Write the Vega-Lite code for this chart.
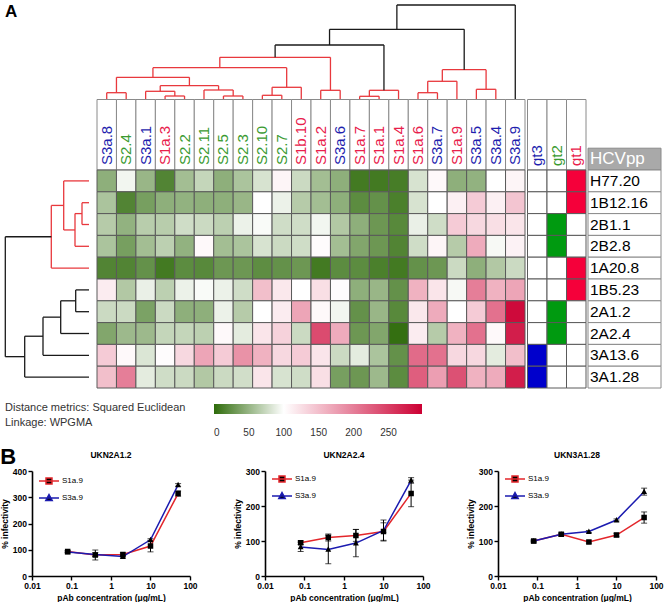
{
 "$schema": "https://vega.github.io/schema/vega-lite/v6.json",
 "padding": 0,
 "background": "white",
 "spacing": 1,
 "config": {
  "font": "Liberation Sans",
  "view": {"stroke": null},
  "legend": {"padding": 0},
  "axis": {"domainColor": "black", "domainWidth": 1.6, "tickColor": "black", "tickWidth": 1.4, "tickSize": 4, "labelFontSize": 8.5, "labelFontWeight": "bold", "labelColor": "black", "labelPadding": 1.5, "titleFontSize": 8.5, "titleFontWeight": "bold", "titleColor": "black", "titlePadding": 3, "grid": false, "labelFlush": false, "labelOverlap": false}
 },
 "datasets": {
  "cols": [
   {"c":"S3a.8","g":"gt3"},{"c":"S2.4","g":"gt2"},{"c":"S3a.1","g":"gt3"},{"c":"S1a.3","g":"gt1"},{"c":"S2.2","g":"gt2"},{"c":"S2.11","g":"gt2"},{"c":"S2.5","g":"gt2"},{"c":"S2.3","g":"gt2"},{"c":"S2.10","g":"gt2"},{"c":"S2.7","g":"gt2"},{"c":"S1b.10","g":"gt1"},{"c":"S1a.2","g":"gt1"},{"c":"S3a.6","g":"gt3"},{"c":"S1a.7","g":"gt1"},{"c":"S1a.1","g":"gt1"},{"c":"S1a.4","g":"gt1"},{"c":"S1a.6","g":"gt1"},{"c":"S3a.7","g":"gt3"},{"c":"S1a.9","g":"gt1"},{"c":"S3a.5","g":"gt3"},{"c":"S3a.4","g":"gt3"},{"c":"S3a.9","g":"gt3"}
  ],
  "gts": [{"g":"gt3"},{"g":"gt2"},{"g":"gt1"}],
  "labels": [
   {"name":"HCVpp","kind":"header"},{"name":"H77.20","kind":"strain"},{"name":"1B12.16","kind":"strain"},{"name":"2B1.1","kind":"strain"},{"name":"2B2.8","kind":"strain"},{"name":"1A20.8","kind":"strain"},{"name":"1B5.23","kind":"strain"},{"name":"2A1.2","kind":"strain"},{"name":"2A2.4","kind":"strain"},{"name":"3A13.6","kind":"strain"},{"name":"3A1.28","kind":"strain"}
  ],
  "gtcells": [
   {"r":"H77.20","g":"gt3","m":0},{"r":"H77.20","g":"gt2","m":0},{"r":"H77.20","g":"gt1","m":1},
   {"r":"1B12.16","g":"gt3","m":0},{"r":"1B12.16","g":"gt2","m":0},{"r":"1B12.16","g":"gt1","m":1},
   {"r":"2B1.1","g":"gt3","m":0},{"r":"2B1.1","g":"gt2","m":1},{"r":"2B1.1","g":"gt1","m":0},
   {"r":"2B2.8","g":"gt3","m":0},{"r":"2B2.8","g":"gt2","m":1},{"r":"2B2.8","g":"gt1","m":0},
   {"r":"1A20.8","g":"gt3","m":0},{"r":"1A20.8","g":"gt2","m":0},{"r":"1A20.8","g":"gt1","m":1},
   {"r":"1B5.23","g":"gt3","m":0},{"r":"1B5.23","g":"gt2","m":0},{"r":"1B5.23","g":"gt1","m":1},
   {"r":"2A1.2","g":"gt3","m":0},{"r":"2A1.2","g":"gt2","m":1},{"r":"2A1.2","g":"gt1","m":0},
   {"r":"2A2.4","g":"gt3","m":0},{"r":"2A2.4","g":"gt2","m":1},{"r":"2A2.4","g":"gt1","m":0},
   {"r":"3A13.6","g":"gt3","m":1},{"r":"3A13.6","g":"gt2","m":0},{"r":"3A13.6","g":"gt1","m":0},
   {"r":"3A1.28","g":"gt3","m":1},{"r":"3A1.28","g":"gt2","m":0},{"r":"3A1.28","g":"gt1","m":0}
  ],
  "topdend": [
   {"x":0.5,"x2":1.5,"y":6.3,"y2":6.3,"k":"in"},{"x":0.5,"x2":0.5,"y":0,"y2":6.3,"k":"in"},{"x":1.5,"x2":1.5,"y":0,"y2":6.3,"k":"in"},
   {"x":3.5,"x2":4.5,"y":3,"y2":3,"k":"in"},{"x":3.5,"x2":3.5,"y":0,"y2":3,"k":"in"},{"x":4.5,"x2":4.5,"y":0,"y2":3,"k":"in"},
   {"x":2.5,"x2":4.0,"y":7.7,"y2":7.7,"k":"in"},{"x":2.5,"x2":2.5,"y":0,"y2":7.7,"k":"in"},{"x":4.0,"x2":4.0,"y":3,"y2":7.7,"k":"in"},
   {"x":6.5,"x2":7.5,"y":3,"y2":3,"k":"in"},{"x":6.5,"x2":6.5,"y":0,"y2":3,"k":"in"},{"x":7.5,"x2":7.5,"y":0,"y2":3,"k":"in"},
   {"x":5.5,"x2":7.0,"y":9,"y2":9,"k":"in"},{"x":5.5,"x2":5.5,"y":0,"y2":9,"k":"in"},{"x":7.0,"x2":7.0,"y":3,"y2":9,"k":"in"},
   {"x":3.25,"x2":6.25,"y":13.3,"y2":13.3,"k":"in"},{"x":3.25,"x2":3.25,"y":7.7,"y2":13.3,"k":"in"},{"x":6.25,"x2":6.25,"y":9,"y2":13.3,"k":"in"},
   {"x":1.0,"x2":4.75,"y":21.7,"y2":21.7,"k":"in"},{"x":1.0,"x2":1.0,"y":6.3,"y2":21.7,"k":"in"},{"x":4.75,"x2":4.75,"y":13.3,"y2":21.7,"k":"in"},
   {"x":8.5,"x2":9.5,"y":3.7,"y2":3.7,"k":"in"},{"x":8.5,"x2":8.5,"y":0,"y2":3.7,"k":"in"},{"x":9.5,"x2":9.5,"y":0,"y2":3.7,"k":"in"},
   {"x":9.0,"x2":10.5,"y":11.7,"y2":11.7,"k":"in"},{"x":9.0,"x2":9.0,"y":3.7,"y2":11.7,"k":"in"},{"x":10.5,"x2":10.5,"y":0,"y2":11.7,"k":"in"},
   {"x":2.875,"x2":9.75,"y":31.3,"y2":31.3,"k":"in"},{"x":2.875,"x2":2.875,"y":21.7,"y2":31.3,"k":"in"},{"x":9.75,"x2":9.75,"y":11.7,"y2":31.3,"k":"in"},
   {"x":11.5,"x2":12.5,"y":8.7,"y2":8.7,"k":"in"},{"x":11.5,"x2":11.5,"y":0,"y2":8.7,"k":"in"},{"x":12.5,"x2":12.5,"y":0,"y2":8.7,"k":"in"},
   {"x":6.3125,"x2":12.0,"y":41.7,"y2":41.7,"k":"in"},{"x":6.3125,"x2":6.3125,"y":31.3,"y2":41.7,"k":"in"},{"x":12.0,"x2":12.0,"y":8.7,"y2":41.7,"k":"in"},
   {"x":13.5,"x2":14.5,"y":2.7,"y2":2.7,"k":"in"},{"x":13.5,"x2":13.5,"y":0,"y2":2.7,"k":"in"},{"x":14.5,"x2":14.5,"y":0,"y2":2.7,"k":"in"},
   {"x":14.0,"x2":15.5,"y":8.7,"y2":8.7,"k":"in"},{"x":14.0,"x2":14.0,"y":2.7,"y2":8.7,"k":"in"},{"x":15.5,"x2":15.5,"y":0,"y2":8.7,"k":"in"},
   {"x":9.156,"x2":14.75,"y":54,"y2":54,"k":"out"},{"x":9.156,"x2":9.156,"y":41.7,"y2":54,"k":"out"},{"x":14.75,"x2":14.75,"y":8.7,"y2":54,"k":"out"},
   {"x":16.5,"x2":17.5,"y":6.3,"y2":6.3,"k":"in"},{"x":16.5,"x2":16.5,"y":0,"y2":6.3,"k":"in"},{"x":17.5,"x2":17.5,"y":0,"y2":6.3,"k":"in"},
   {"x":17.0,"x2":18.5,"y":17.7,"y2":17.7,"k":"in"},{"x":17.0,"x2":17.0,"y":6.3,"y2":17.7,"k":"in"},{"x":18.5,"x2":18.5,"y":0,"y2":17.7,"k":"in"},
   {"x":19.5,"x2":20.5,"y":9.7,"y2":9.7,"k":"in"},{"x":19.5,"x2":19.5,"y":0,"y2":9.7,"k":"in"},{"x":20.5,"x2":20.5,"y":0,"y2":9.7,"k":"in"},
   {"x":17.75,"x2":20.0,"y":29.3,"y2":29.3,"k":"in"},{"x":17.75,"x2":17.75,"y":17.7,"y2":29.3,"k":"in"},{"x":20.0,"x2":20.0,"y":9.7,"y2":29.3,"k":"in"},
   {"x":11.953,"x2":18.875,"y":69.7,"y2":69.7,"k":"out"},{"x":11.953,"x2":11.953,"y":54,"y2":69.7,"k":"out"},{"x":18.875,"x2":18.875,"y":29.3,"y2":69.7,"k":"out"},
   {"x":15.414,"x2":21.5,"y":94,"y2":94,"k":"out"},{"x":15.414,"x2":15.414,"y":69.7,"y2":94,"k":"out"},{"x":21.5,"x2":21.5,"y":0,"y2":94,"k":"out"}
  ],
  "leftdend": [
   {"x":0,"x2":7,"y":1.5,"y2":1.5,"k":"in"},{"x":0,"x2":7,"y":2.5,"y2":2.5,"k":"in"},{"x":7,"x2":7,"y":1.5,"y2":2.5,"k":"in"},
   {"x":7,"x2":14,"y":2.0,"y2":2.0,"k":"in"},{"x":0,"x2":14,"y":3.5,"y2":3.5,"k":"in"},{"x":14,"x2":14,"y":2.0,"y2":3.5,"k":"in"},
   {"x":0,"x2":25.3,"y":0.5,"y2":0.5,"k":"in"},{"x":14,"x2":25.3,"y":2.75,"y2":2.75,"k":"in"},{"x":25.3,"x2":25.3,"y":0.5,"y2":2.75,"k":"in"},
   {"x":25.3,"x2":37.7,"y":1.625,"y2":1.625,"k":"in"},{"x":0,"x2":37.7,"y":4.5,"y2":4.5,"k":"in"},{"x":37.7,"x2":37.7,"y":1.625,"y2":4.5,"k":"in"},
   {"x":0,"x2":13.3,"y":5.5,"y2":5.5,"k":"out"},{"x":0,"x2":13.3,"y":6.5,"y2":6.5,"k":"out"},{"x":13.3,"x2":13.3,"y":5.5,"y2":6.5,"k":"out"},
   {"x":13.3,"x2":28.3,"y":6.0,"y2":6.0,"k":"out"},{"x":0,"x2":28.3,"y":7.5,"y2":7.5,"k":"out"},{"x":28.3,"x2":28.3,"y":6.0,"y2":7.5,"k":"out"},
   {"x":28.3,"x2":46,"y":6.75,"y2":6.75,"k":"out"},{"x":0,"x2":46,"y":8.5,"y2":8.5,"k":"out"},{"x":46,"x2":46,"y":6.75,"y2":8.5,"k":"out"},
   {"x":46,"x2":64.3,"y":7.625,"y2":7.625,"k":"out"},{"x":0,"x2":64.3,"y":9.5,"y2":9.5,"k":"out"},{"x":64.3,"x2":64.3,"y":7.625,"y2":9.5,"k":"out"},
   {"x":37.7,"x2":83.7,"y":3.0625,"y2":3.0625,"k":"out"},{"x":64.3,"x2":83.7,"y":8.5625,"y2":8.5625,"k":"out"},{"x":83.7,"x2":83.7,"y":3.0625,"y2":8.5625,"k":"out"}
  ],
  "heat": [
   {"r":"H77.20","c":"S3a.8","v":46},{"r":"H77.20","c":"S2.4","v":94},{"r":"H77.20","c":"S3a.1","v":51},{"r":"H77.20","c":"S1a.3","v":17},{"r":"H77.20","c":"S2.2","v":56},{"r":"H77.20","c":"S2.11","v":72},{"r":"H77.20","c":"S2.5","v":46},{"r":"H77.20","c":"S2.3","v":60},{"r":"H77.20","c":"S2.10","v":81},{"r":"H77.20","c":"S2.7","v":108},{"r":"H77.20","c":"S1b.10","v":75},{"r":"H77.20","c":"S1a.2","v":56},{"r":"H77.20","c":"S3a.6","v":46},{"r":"H77.20","c":"S1a.7","v":10},{"r":"H77.20","c":"S1a.1","v":10},{"r":"H77.20","c":"S1a.4","v":12},{"r":"H77.20","c":"S1a.6","v":81},{"r":"H77.20","c":"S3a.7","v":105},{"r":"H77.20","c":"S1a.9","v":46},{"r":"H77.20","c":"S3a.5","v":48},{"r":"H77.20","c":"S3a.4","v":100},{"r":"H77.20","c":"S3a.9","v":108},
   {"r":"1B12.16","c":"S3a.8","v":60},{"r":"1B12.16","c":"S2.4","v":17},{"r":"1B12.16","c":"S3a.1","v":35},{"r":"1B12.16","c":"S1a.3","v":46},{"r":"1B12.16","c":"S2.2","v":48},{"r":"1B12.16","c":"S2.11","v":46},{"r":"1B12.16","c":"S2.5","v":46},{"r":"1B12.16","c":"S2.3","v":51},{"r":"1B12.16","c":"S2.10","v":100},{"r":"1B12.16","c":"S2.7","v":91},{"r":"1B12.16","c":"S1b.10","v":65},{"r":"1B12.16","c":"S1a.2","v":56},{"r":"1B12.16","c":"S3a.6","v":46},{"r":"1B12.16","c":"S1a.7","v":22},{"r":"1B12.16","c":"S1a.1","v":26},{"r":"1B12.16","c":"S1a.4","v":14},{"r":"1B12.16","c":"S1a.6","v":81},{"r":"1B12.16","c":"S3a.7","v":100},{"r":"1B12.16","c":"S1a.9","v":112},{"r":"1B12.16","c":"S3a.5","v":140},{"r":"1B12.16","c":"S3a.4","v":112},{"r":"1B12.16","c":"S3a.9","v":145},
   {"r":"2B1.1","c":"S3a.8","v":65},{"r":"2B1.1","c":"S2.4","v":48},{"r":"2B1.1","c":"S3a.1","v":66},{"r":"2B1.1","c":"S1a.3","v":66},{"r":"2B1.1","c":"S2.2","v":77},{"r":"2B1.1","c":"S2.11","v":75},{"r":"2B1.1","c":"S2.5","v":68},{"r":"2B1.1","c":"S2.3","v":91},{"r":"2B1.1","c":"S2.10","v":97},{"r":"2B1.1","c":"S2.7","v":77},{"r":"2B1.1","c":"S1b.10","v":77},{"r":"2B1.1","c":"S1a.2","v":94},{"r":"2B1.1","c":"S3a.6","v":63},{"r":"2B1.1","c":"S1a.7","v":46},{"r":"2B1.1","c":"S1a.1","v":30},{"r":"2B1.1","c":"S1a.4","v":20},{"r":"2B1.1","c":"S1a.6","v":90},{"r":"2B1.1","c":"S3a.7","v":77},{"r":"2B1.1","c":"S1a.9","v":140},{"r":"2B1.1","c":"S3a.5","v":130},{"r":"2B1.1","c":"S3a.4","v":125},{"r":"2B1.1","c":"S3a.9","v":120},
   {"r":"2B2.8","c":"S3a.8","v":60},{"r":"2B2.8","c":"S2.4","v":35},{"r":"2B2.8","c":"S3a.1","v":56},{"r":"2B2.8","c":"S1a.3","v":68},{"r":"2B2.8","c":"S2.2","v":48},{"r":"2B2.8","c":"S2.11","v":105},{"r":"2B2.8","c":"S2.5","v":56},{"r":"2B2.8","c":"S2.3","v":60},{"r":"2B2.8","c":"S2.10","v":81},{"r":"2B2.8","c":"S2.7","v":75},{"r":"2B2.8","c":"S1b.10","v":77},{"r":"2B2.8","c":"S1a.2","v":103},{"r":"2B2.8","c":"S3a.6","v":56},{"r":"2B2.8","c":"S1a.7","v":40},{"r":"2B2.8","c":"S1a.1","v":30},{"r":"2B2.8","c":"S1a.4","v":17},{"r":"2B2.8","c":"S1a.6","v":77},{"r":"2B2.8","c":"S3a.7","v":108},{"r":"2B2.8","c":"S1a.9","v":65},{"r":"2B2.8","c":"S3a.5","v":165},{"r":"2B2.8","c":"S3a.4","v":96},{"r":"2B2.8","c":"S3a.9","v":110},
   {"r":"1A20.8","c":"S3a.8","v":17},{"r":"1A20.8","c":"S2.4","v":17},{"r":"1A20.8","c":"S3a.1","v":26},{"r":"1A20.8","c":"S1a.3","v":10},{"r":"1A20.8","c":"S2.2","v":22},{"r":"1A20.8","c":"S2.11","v":20},{"r":"1A20.8","c":"S2.5","v":30},{"r":"1A20.8","c":"S2.3","v":30},{"r":"1A20.8","c":"S2.10","v":23},{"r":"1A20.8","c":"S2.7","v":26},{"r":"1A20.8","c":"S1b.10","v":30},{"r":"1A20.8","c":"S1a.2","v":10},{"r":"1A20.8","c":"S3a.6","v":22},{"r":"1A20.8","c":"S1a.7","v":22},{"r":"1A20.8","c":"S1a.1","v":14},{"r":"1A20.8","c":"S1a.4","v":10},{"r":"1A20.8","c":"S1a.6","v":26},{"r":"1A20.8","c":"S3a.7","v":30},{"r":"1A20.8","c":"S1a.9","v":75},{"r":"1A20.8","c":"S3a.5","v":46},{"r":"1A20.8","c":"S3a.4","v":63},{"r":"1A20.8","c":"S3a.9","v":75},
   {"r":"1B5.23","c":"S3a.8","v":115},{"r":"1B5.23","c":"S2.4","v":63},{"r":"1B5.23","c":"S3a.1","v":90},{"r":"1B5.23","c":"S1a.3","v":68},{"r":"1B5.23","c":"S2.2","v":91},{"r":"1B5.23","c":"S2.11","v":97},{"r":"1B5.23","c":"S2.5","v":91},{"r":"1B5.23","c":"S2.3","v":77},{"r":"1B5.23","c":"S2.10","v":150},{"r":"1B5.23","c":"S2.7","v":118},{"r":"1B5.23","c":"S1b.10","v":100},{"r":"1B5.23","c":"S1a.2","v":125},{"r":"1B5.23","c":"S3a.6","v":102},{"r":"1B5.23","c":"S1a.7","v":46},{"r":"1B5.23","c":"S1a.1","v":51},{"r":"1B5.23","c":"S1a.4","v":26},{"r":"1B5.23","c":"S1a.6","v":160},{"r":"1B5.23","c":"S3a.7","v":120},{"r":"1B5.23","c":"S1a.9","v":96},{"r":"1B5.23","c":"S3a.5","v":200},{"r":"1B5.23","c":"S3a.4","v":160},{"r":"1B5.23","c":"S3a.9","v":170},
   {"r":"2A1.2","c":"S3a.8","v":75},{"r":"2A1.2","c":"S2.4","v":75},{"r":"2A1.2","c":"S3a.1","v":37},{"r":"2A1.2","c":"S1a.3","v":75},{"r":"2A1.2","c":"S2.2","v":46},{"r":"2A1.2","c":"S2.11","v":46},{"r":"2A1.2","c":"S2.5","v":91},{"r":"2A1.2","c":"S2.3","v":65},{"r":"2A1.2","c":"S2.10","v":100},{"r":"2A1.2","c":"S2.7","v":115},{"r":"2A1.2","c":"S1b.10","v":170},{"r":"2A1.2","c":"S1a.2","v":105},{"r":"2A1.2","c":"S3a.6","v":94},{"r":"2A1.2","c":"S1a.7","v":26},{"r":"2A1.2","c":"S1a.1","v":51},{"r":"2A1.2","c":"S1a.4","v":20},{"r":"2A1.2","c":"S1a.6","v":118},{"r":"2A1.2","c":"S3a.7","v":165},{"r":"2A1.2","c":"S1a.9","v":100},{"r":"2A1.2","c":"S3a.5","v":140},{"r":"2A1.2","c":"S3a.4","v":210},{"r":"2A1.2","c":"S3a.9","v":290},
   {"r":"2A2.4","c":"S3a.8","v":40},{"r":"2A2.4","c":"S2.4","v":53},{"r":"2A2.4","c":"S3a.1","v":53},{"r":"2A2.4","c":"S1a.3","v":72},{"r":"2A2.4","c":"S2.2","v":72},{"r":"2A2.4","c":"S2.11","v":68},{"r":"2A2.4","c":"S2.5","v":105},{"r":"2A2.4","c":"S2.3","v":87},{"r":"2A2.4","c":"S2.10","v":120},{"r":"2A2.4","c":"S2.7","v":135},{"r":"2A2.4","c":"S1b.10","v":75},{"r":"2A2.4","c":"S1a.2","v":240},{"r":"2A2.4","c":"S3a.6","v":165},{"r":"2A2.4","c":"S1a.7","v":30},{"r":"2A2.4","c":"S1a.1","v":40},{"r":"2A2.4","c":"S1a.4","v":3},{"r":"2A2.4","c":"S1a.6","v":115},{"r":"2A2.4","c":"S3a.7","v":65},{"r":"2A2.4","c":"S1a.9","v":160},{"r":"2A2.4","c":"S3a.5","v":210},{"r":"2A2.4","c":"S3a.4","v":105},{"r":"2A2.4","c":"S3a.9","v":275},
   {"r":"3A13.6","c":"S3a.8","v":140},{"r":"3A13.6","c":"S2.4","v":105},{"r":"3A13.6","c":"S3a.1","v":83},{"r":"3A13.6","c":"S1a.3","v":102},{"r":"3A13.6","c":"S2.2","v":130},{"r":"3A13.6","c":"S2.11","v":170},{"r":"3A13.6","c":"S2.5","v":140},{"r":"3A13.6","c":"S2.3","v":185},{"r":"3A13.6","c":"S2.10","v":160},{"r":"3A13.6","c":"S2.7","v":130},{"r":"3A13.6","c":"S1b.10","v":140},{"r":"3A13.6","c":"S1a.2","v":120},{"r":"3A13.6","c":"S3a.6","v":75},{"r":"3A13.6","c":"S1a.7","v":87},{"r":"3A13.6","c":"S1a.1","v":60},{"r":"3A13.6","c":"S1a.4","v":26},{"r":"3A13.6","c":"S1a.6","v":215},{"r":"3A13.6","c":"S3a.7","v":210},{"r":"3A13.6","c":"S1a.9","v":130},{"r":"3A13.6","c":"S3a.5","v":130},{"r":"3A13.6","c":"S3a.4","v":87},{"r":"3A13.6","c":"S3a.9","v":150},
   {"r":"3A1.28","c":"S3a.8","v":150},{"r":"3A1.28","c":"S2.4","v":200},{"r":"3A1.28","c":"S3a.1","v":87},{"r":"3A1.28","c":"S1a.3","v":77},{"r":"3A1.28","c":"S2.2","v":75},{"r":"3A1.28","c":"S2.11","v":63},{"r":"3A1.28","c":"S2.5","v":75},{"r":"3A1.28","c":"S2.3","v":78},{"r":"3A1.28","c":"S2.10","v":120},{"r":"3A1.28","c":"S2.7","v":81},{"r":"3A1.28","c":"S1b.10","v":77},{"r":"3A1.28","c":"S1a.2","v":125},{"r":"3A1.28","c":"S3a.6","v":35},{"r":"3A1.28","c":"S1a.7","v":30},{"r":"3A1.28","c":"S1a.1","v":53},{"r":"3A1.28","c":"S1a.4","v":22},{"r":"3A1.28","c":"S1a.6","v":225},{"r":"3A1.28","c":"S3a.7","v":175},{"r":"3A1.28","c":"S1a.9","v":235},{"r":"3A1.28","c":"S3a.5","v":160},{"r":"3A1.28","c":"S3a.4","v":165},{"r":"3A1.28","c":"S3a.9","v":275}
  ],
  "curves": [
   {"p":"UKN2A1.2","s":"S1a.9","conc":0.08,"m":93,"lo":89,"hi":97},
   {"p":"UKN2A1.2","s":"S1a.9","conc":0.4,"m":80,"lo":61,"hi":99},
   {"p":"UKN2A1.2","s":"S1a.9","conc":2,"m":82,"lo":76,"hi":88},
   {"p":"UKN2A1.2","s":"S1a.9","conc":10,"m":114,"lo":92,"hi":136},
   {"p":"UKN2A1.2","s":"S1a.9","conc":50,"m":314,"lo":304,"hi":324},
   {"p":"UKN2A1.2","s":"S3a.9","conc":0.08,"m":91,"lo":88,"hi":94},
   {"p":"UKN2A1.2","s":"S3a.9","conc":0.4,"m":82,"lo":75,"hi":89},
   {"p":"UKN2A1.2","s":"S3a.9","conc":2,"m":74,"lo":69,"hi":79},
   {"p":"UKN2A1.2","s":"S3a.9","conc":10,"m":138,"lo":134,"hi":142},
   {"p":"UKN2A1.2","s":"S3a.9","conc":50,"m":347,"lo":342,"hi":352},
   {"p":"UKN2A2.4","s":"S1a.9","conc":0.08,"m":95,"lo":90,"hi":100},
   {"p":"UKN2A2.4","s":"S1a.9","conc":0.4,"m":110,"lo":100,"hi":120},
   {"p":"UKN2A2.4","s":"S1a.9","conc":2,"m":116,"lo":99,"hi":133},
   {"p":"UKN2A2.4","s":"S1a.9","conc":10,"m":127,"lo":102,"hi":152},
   {"p":"UKN2A2.4","s":"S1a.9","conc":50,"m":236,"lo":198,"hi":274},
   {"p":"UKN2A2.4","s":"S3a.9","conc":0.08,"m":83,"lo":70,"hi":96},
   {"p":"UKN2A2.4","s":"S3a.9","conc":0.4,"m":76,"lo":35,"hi":117},
   {"p":"UKN2A2.4","s":"S3a.9","conc":2,"m":94,"lo":55,"hi":133},
   {"p":"UKN2A2.4","s":"S3a.9","conc":10,"m":130,"lo":100,"hi":160},
   {"p":"UKN2A2.4","s":"S3a.9","conc":50,"m":273,"lo":265,"hi":281},
   {"p":"UKN3A1.28","s":"S1a.9","conc":0.08,"m":100,"lo":97,"hi":103},
   {"p":"UKN3A1.28","s":"S1a.9","conc":0.4,"m":119,"lo":115,"hi":123},
   {"p":"UKN3A1.28","s":"S1a.9","conc":2,"m":97,"lo":94,"hi":100},
   {"p":"UKN3A1.28","s":"S1a.9","conc":10,"m":117,"lo":112,"hi":122},
   {"p":"UKN3A1.28","s":"S1a.9","conc":50,"m":167,"lo":151,"hi":183},
   {"p":"UKN3A1.28","s":"S3a.9","conc":0.08,"m":100,"lo":98,"hi":102},
   {"p":"UKN3A1.28","s":"S3a.9","conc":0.4,"m":119,"lo":116,"hi":122},
   {"p":"UKN3A1.28","s":"S3a.9","conc":2,"m":127,"lo":124,"hi":130},
   {"p":"UKN3A1.28","s":"S3a.9","conc":10,"m":160,"lo":157,"hi":163},
   {"p":"UKN3A1.28","s":"S3a.9","conc":50,"m":241,"lo":231,"hi":251}
  ]
 },
 "vconcat": [
  {
   "width": 632, "height": 444,
   "title": {"text": "A", "anchor": "start", "frame": "group", "offset": -34, "dx": -27, "fontSize": 17, "fontWeight": "bold", "color": "black", "baseline": "alphabetic"},
   "resolve": {"scale": {"x": "independent", "y": "independent", "color": "independent", "fill": "independent", "stroke": "independent", "size": "independent"}},
   "layer": [
    {"data": {"name": "topdend"}, "mark": {"type": "rule", "strokeWidth": 1.3},
     "encoding": {
      "x": {"field": "x", "type": "quantitative", "scale": {"domain": [0, 22], "range": [65, 493], "nice": false, "zero": false}, "axis": null},
      "x2": {"field": "x2"},
      "y": {"field": "y", "type": "quantitative", "scale": {"domain": [0, 99], "range": [99, 0], "nice": false, "zero": false}, "axis": null},
      "y2": {"field": "y2"},
      "stroke": {"field": "k", "type": "nominal", "scale": {"domain": ["in", "out"], "range": ["#e8383d", "#1a1a1a"]}, "legend": null}
     }},
    {"data": {"name": "leftdend"}, "mark": {"type": "rule", "strokeWidth": 1.3},
     "encoding": {
      "x": {"field": "x", "type": "quantitative", "scale": {"domain": [0, 89], "range": [57, -32], "nice": false, "zero": false}, "axis": null},
      "x2": {"field": "x2"},
      "y": {"field": "y", "type": "quantitative", "scale": {"domain": [0, 10], "range": [170, 388], "nice": false, "zero": false}, "axis": null},
      "y2": {"field": "y2"},
      "stroke": {"field": "k", "type": "nominal", "scale": {"domain": ["in", "out"], "range": ["#e8383d", "#1a1a1a"]}, "legend": null}
     }},
    {"data": {"name": "cols"}, "mark": {"type": "rect", "fill": "white", "stroke": "#8a8a8a", "strokeWidth": 1},
     "encoding": {
      "x": {"field": "c", "type": "nominal", "sort": null, "scale": {"domain": ["S3a.8","S2.4","S3a.1","S1a.3","S2.2","S2.11","S2.5","S2.3","S2.10","S2.7","S1b.10","S1a.2","S3a.6","S1a.7","S1a.1","S1a.4","S1a.6","S3a.7","S1a.9","S3a.5","S3a.4","S3a.9"], "range": [65, 493], "paddingInner": 0, "paddingOuter": 0}, "axis": null},
      "y": {"datum": "hdr", "type": "nominal", "scale": {"domain": ["hdr"], "range": [99.5, 170], "paddingInner": 0, "paddingOuter": 0}, "axis": null}
     }},
    {"data": {"name": "cols"}, "mark": {"type": "text", "angle": 270, "align": "left", "baseline": "middle", "fontSize": 15},
     "encoding": {
      "x": {"field": "c", "type": "nominal", "sort": null, "scale": {"domain": ["S3a.8","S2.4","S3a.1","S1a.3","S2.2","S2.11","S2.5","S2.3","S2.10","S2.7","S1b.10","S1a.2","S3a.6","S1a.7","S1a.1","S1a.4","S1a.6","S3a.7","S1a.9","S3a.5","S3a.4","S3a.9"], "range": [65, 493], "paddingInner": 0, "paddingOuter": 0}, "axis": null},
      "y": {"datum": 0, "type": "quantitative", "scale": {"domain": [0, 1], "range": [165, 100], "nice": false, "zero": false}, "axis": null},
      "text": {"field": "c"},
      "color": {"field": "g", "type": "nominal", "scale": {"domain": ["gt1", "gt2", "gt3"], "range": ["#e8204b", "#3a9a30", "#1f1fae"]}, "legend": null}
     }},
    {"data": {"name": "heat"}, "mark": {"type": "rect", "stroke": "#5a5a5a", "strokeWidth": 1},
     "encoding": {
      "x": {"field": "c", "type": "nominal", "sort": null, "scale": {"domain": ["S3a.8","S2.4","S3a.1","S1a.3","S2.2","S2.11","S2.5","S2.3","S2.10","S2.7","S1b.10","S1a.2","S3a.6","S1a.7","S1a.1","S1a.4","S1a.6","S3a.7","S1a.9","S3a.5","S3a.4","S3a.9"], "range": [65, 493], "paddingInner": 0, "paddingOuter": 0}, "axis": null},
      "y": {"field": "r", "type": "nominal", "sort": null, "scale": {"domain": ["H77.20","1B12.16","2B1.1","2B2.8","1A20.8","1B5.23","2A1.2","2A2.4","3A13.6","3A1.28"], "range": [170, 388], "paddingInner": 0, "paddingOuter": 0}, "axis": null},
      "color": {"field": "v", "type": "quantitative", "scale": {"domain": [0, 100, 298], "range": ["#2e6b0a", "#ffffff", "#cc0033"], "interpolate": "rgb"},
       "legend": {"orient": "none", "legendX": -27, "legendY": 404, "direction": "horizontal", "gradientLength": 208, "gradientThickness": 10, "gradientStrokeWidth": 0, "title": ["Distance metrics: Squared Euclidean", "Linkage: WPGMA"], "titleOrient": "left", "titleFontSize": 11, "titleFontWeight": "normal", "titleColor": "#333333", "titleLineHeight": 15, "titlePadding": 28, "titleAlign": "left", "titleBaseline": "top", "titleLimit": 400, "values": [0, 50, 100, 150, 200, 250], "labelFontSize": 10, "labelColor": "#333333", "labelOffset": 14}}
     }},
    {"data": {"name": "gts"}, "mark": {"type": "rect", "fill": "white", "stroke": "#8a8a8a", "strokeWidth": 1},
     "encoding": {
      "x": {"field": "g", "type": "nominal", "sort": null, "scale": {"domain": ["gt3", "gt2", "gt1"], "range": [495.5, 554], "paddingInner": 0, "paddingOuter": 0}, "axis": null},
      "y": {"datum": "hdr", "type": "nominal", "scale": {"domain": ["hdr"], "range": [99.5, 170], "paddingInner": 0, "paddingOuter": 0}, "axis": null}
     }},
    {"data": {"name": "gts"}, "mark": {"type": "text", "angle": 270, "align": "left", "baseline": "middle", "fontSize": 15},
     "encoding": {
      "x": {"field": "g", "type": "nominal", "sort": null, "scale": {"domain": ["gt3", "gt2", "gt1"], "range": [495.5, 554], "paddingInner": 0, "paddingOuter": 0}, "axis": null},
      "y": {"datum": 0, "type": "quantitative", "scale": {"domain": [0, 1], "range": [166, 100], "nice": false, "zero": false}, "axis": null},
      "text": {"field": "g"},
      "color": {"field": "g", "type": "nominal", "scale": {"domain": ["gt1", "gt2", "gt3"], "range": ["#e8204b", "#3a9a30", "#1f1fae"]}, "legend": null}
     }},
    {"data": {"name": "gtcells"}, "mark": {"type": "rect", "stroke": "#5a5a5a", "strokeWidth": 1},
     "encoding": {
      "x": {"field": "g", "type": "nominal", "sort": null, "scale": {"domain": ["gt3", "gt2", "gt1"], "range": [495.5, 554], "paddingInner": 0, "paddingOuter": 0}, "axis": null},
      "y": {"field": "r", "type": "nominal", "sort": null, "scale": {"domain": ["H77.20","1B12.16","2B1.1","2B2.8","1A20.8","1B5.23","2A1.2","2A2.4","3A13.6","3A1.28"], "range": [170, 388], "paddingInner": 0, "paddingOuter": 0}, "axis": null},
      "fill": {"condition": {"test": "datum.m == 1", "field": "g", "type": "nominal", "scale": {"domain": ["gt1", "gt2", "gt3"], "range": ["#f5003a", "#009a10", "#0000cc"]}, "legend": null}, "value": "white"}
     }},
    {"data": {"name": "labels"}, "mark": {"type": "rect", "stroke": "#8a8a8a", "strokeWidth": 1},
     "encoding": {
      "x": {"datum": "lab", "type": "nominal", "scale": {"domain": ["lab"], "range": [556, 629], "paddingInner": 0, "paddingOuter": 0}, "axis": null},
      "y": {"field": "name", "type": "nominal", "sort": null, "scale": {"domain": ["HCVpp","H77.20","1B12.16","2B1.1","2B2.8","1A20.8","1B5.23","2A1.2","2A2.4","3A13.6","3A1.28"], "range": [148.2, 388], "paddingInner": 0, "paddingOuter": 0}, "axis": null},
      "fill": {"field": "kind", "type": "nominal", "scale": {"domain": ["header", "strain"], "range": ["#a9a9a9", "#ffffff"]}, "legend": null}
     }},
    {"data": {"name": "labels"}, "mark": {"type": "text", "align": "left", "baseline": "middle", "dx": 2},
     "encoding": {
      "x": {"datum": 0, "type": "quantitative", "scale": {"domain": [0, 1], "range": [556, 629], "nice": false, "zero": false}, "axis": null},
      "y": {"field": "name", "type": "nominal", "sort": null, "scale": {"domain": ["HCVpp","H77.20","1B12.16","2B1.1","2B2.8","1A20.8","1B5.23","2A1.2","2A2.4","3A13.6","3A1.28"], "range": [148.2, 388], "paddingInner": 0, "paddingOuter": 0}, "axis": null},
      "text": {"field": "name"},
      "size": {"field": "kind", "type": "nominal", "scale": {"domain": ["header", "strain"], "range": [17, 15.5]}, "legend": null},
      "color": {"field": "kind", "type": "nominal", "scale": {"domain": ["header", "strain"], "range": ["#ffffff", "#000000"]}, "legend": null}
     }}
   ]
  },
  {
   "title": {"text": "B", "anchor": "start", "fontSize": 22, "fontWeight": "bold", "offset": -18, "color": "black"},
   "spacing": 35,
   "resolve": {"scale": {"color": "independent", "shape": "independent"}, "legend": {"color": "independent", "shape": "independent"}},
   "hconcat": [
    {
     "width": 158, "height": 105,
     "title": {"text": "UKN2A1.2", "fontSize": 8.5, "fontWeight": "bold", "offset": 8, "color": "black"},
     "data": {"name": "curves"},
     "transform": [{"filter": "datum.p == 'UKN2A1.2'"}],
     "encoding": {"x": {"field": "conc", "type": "quantitative", "scale": {"type": "log", "domain": [0.01, 100], "nice": false}, "axis": {"values": [0.01, 0.1, 1, 10, 100], "format": "~g"}, "title": "pAb concentration  (μg/mL)"}},
     "layer": [
      {"mark": {"type": "errorbar", "color": "black", "ticks": true, "size": 6, "thickness": 1},
       "encoding": {"y": {"field": "lo", "type": "quantitative", "scale": {"domain": [0, 400], "nice": false}, "axis": {"values": [0, 100, 200, 300, 400]}, "title": "% infectivity"}, "y2": {"field": "hi"}}},
      {"mark": {"type": "line", "strokeWidth": 1.5},
       "encoding": {"y": {"field": "m", "type": "quantitative", "scale": {"domain": [0, 400], "nice": false}, "axis": {"values": [0, 100, 200, 300, 400]}, "title": "% infectivity"},
        "color": {"field": "s", "type": "nominal", "scale": {"domain": ["S1a.9", "S3a.9"], "range": ["#e3262b", "#1b1bb0"]}, "legend": {"title": null, "orient": "none", "legendX": 6, "legendY": -1, "labelFontSize": 8, "labelColor": "black", "symbolSize": 400, "symbolStrokeWidth": 1.5, "rowPadding": -12, "labelOffset": 2}}}},
      {"mark": {"type": "point", "filled": true, "color": "black", "size": 336, "opacity": 1},
       "encoding": {"y": {"field": "m", "type": "quantitative", "scale": {"domain": [0, 400], "nice": false}, "axis": {"values": [0, 100, 200, 300, 400]}, "title": "% infectivity"},
        "shape": {"field": "s", "type": "nominal", "scale": {"domain": ["S1a.9", "S3a.9"], "range": ["M-1,0H1M-0.3,-0.3H0.3V0.3H-0.3Z", "M-1,0H1M0,-0.34L0.32,0.26H-0.32Z"]}, "legend": {"title": null, "orient": "none", "legendX": 6, "legendY": -1, "labelFontSize": 8, "labelColor": "black", "symbolSize": 400, "symbolStrokeWidth": 1.5, "rowPadding": -12, "labelOffset": 2}}}}
     ]
    },
    {
     "width": 158, "height": 105,
     "title": {"text": "UKN2A2.4", "fontSize": 8.5, "fontWeight": "bold", "offset": 8, "color": "black"},
     "data": {"name": "curves"},
     "transform": [{"filter": "datum.p == 'UKN2A2.4'"}],
     "encoding": {"x": {"field": "conc", "type": "quantitative", "scale": {"type": "log", "domain": [0.01, 100], "nice": false}, "axis": {"values": [0.01, 0.1, 1, 10, 100], "format": "~g"}, "title": "pAb concentration  (μg/mL)"}},
     "layer": [
      {"mark": {"type": "errorbar", "color": "black", "ticks": true, "size": 6, "thickness": 1},
       "encoding": {"y": {"field": "lo", "type": "quantitative", "scale": {"domain": [0, 300], "nice": false}, "axis": {"values": [0, 100, 200, 300]}, "title": "% infectivity"}, "y2": {"field": "hi"}}},
      {"mark": {"type": "line", "strokeWidth": 1.5},
       "encoding": {"y": {"field": "m", "type": "quantitative", "scale": {"domain": [0, 300], "nice": false}, "axis": {"values": [0, 100, 200, 300]}, "title": "% infectivity"},
        "color": {"field": "s", "type": "nominal", "scale": {"domain": ["S1a.9", "S3a.9"], "range": ["#e3262b", "#1b1bb0"]}, "legend": {"title": null, "orient": "none", "legendX": 6, "legendY": -3, "labelFontSize": 8, "labelColor": "black", "symbolSize": 400, "symbolStrokeWidth": 1.5, "rowPadding": -12, "labelOffset": 2}}}},
      {"mark": {"type": "point", "filled": true, "color": "black", "size": 336, "opacity": 1},
       "encoding": {"y": {"field": "m", "type": "quantitative", "scale": {"domain": [0, 300], "nice": false}, "axis": {"values": [0, 100, 200, 300]}, "title": "% infectivity"},
        "shape": {"field": "s", "type": "nominal", "scale": {"domain": ["S1a.9", "S3a.9"], "range": ["M-1,0H1M-0.3,-0.3H0.3V0.3H-0.3Z", "M-1,0H1M0,-0.34L0.32,0.26H-0.32Z"]}, "legend": {"title": null, "orient": "none", "legendX": 6, "legendY": -3, "labelFontSize": 8, "labelColor": "black", "symbolSize": 400, "symbolStrokeWidth": 1.5, "rowPadding": -12, "labelOffset": 2}}}}
     ]
    },
    {
     "width": 158, "height": 105,
     "title": {"text": "UKN3A1.28", "fontSize": 8.5, "fontWeight": "bold", "offset": 8, "color": "black"},
     "data": {"name": "curves"},
     "transform": [{"filter": "datum.p == 'UKN3A1.28'"}],
     "encoding": {"x": {"field": "conc", "type": "quantitative", "scale": {"type": "log", "domain": [0.01, 100], "nice": false}, "axis": {"values": [0.01, 0.1, 1, 10, 100], "format": "~g"}, "title": "pAb concentration  (μg/mL)"}},
     "layer": [
      {"mark": {"type": "errorbar", "color": "black", "ticks": true, "size": 6, "thickness": 1},
       "encoding": {"y": {"field": "lo", "type": "quantitative", "scale": {"domain": [0, 300], "nice": false}, "axis": {"values": [0, 100, 200, 300]}, "title": "% infectivity"}, "y2": {"field": "hi"}}},
      {"mark": {"type": "line", "strokeWidth": 1.5},
       "encoding": {"y": {"field": "m", "type": "quantitative", "scale": {"domain": [0, 300], "nice": false}, "axis": {"values": [0, 100, 200, 300]}, "title": "% infectivity"},
        "color": {"field": "s", "type": "nominal", "scale": {"domain": ["S1a.9", "S3a.9"], "range": ["#e3262b", "#1b1bb0"]}, "legend": {"title": null, "orient": "none", "legendX": 6, "legendY": -3, "labelFontSize": 8, "labelColor": "black", "symbolSize": 400, "symbolStrokeWidth": 1.5, "rowPadding": -12, "labelOffset": 2}}}},
      {"mark": {"type": "point", "filled": true, "color": "black", "size": 336, "opacity": 1},
       "encoding": {"y": {"field": "m", "type": "quantitative", "scale": {"domain": [0, 300], "nice": false}, "axis": {"values": [0, 100, 200, 300]}, "title": "% infectivity"},
        "shape": {"field": "s", "type": "nominal", "scale": {"domain": ["S1a.9", "S3a.9"], "range": ["M-1,0H1M-0.3,-0.3H0.3V0.3H-0.3Z", "M-1,0H1M0,-0.34L0.32,0.26H-0.32Z"]}, "legend": {"title": null, "orient": "none", "legendX": 6, "legendY": -3, "labelFontSize": 8, "labelColor": "black", "symbolSize": 400, "symbolStrokeWidth": 1.5, "rowPadding": -12, "labelOffset": 2}}}}
     ]
    }
   ]
  }
 ]
}
